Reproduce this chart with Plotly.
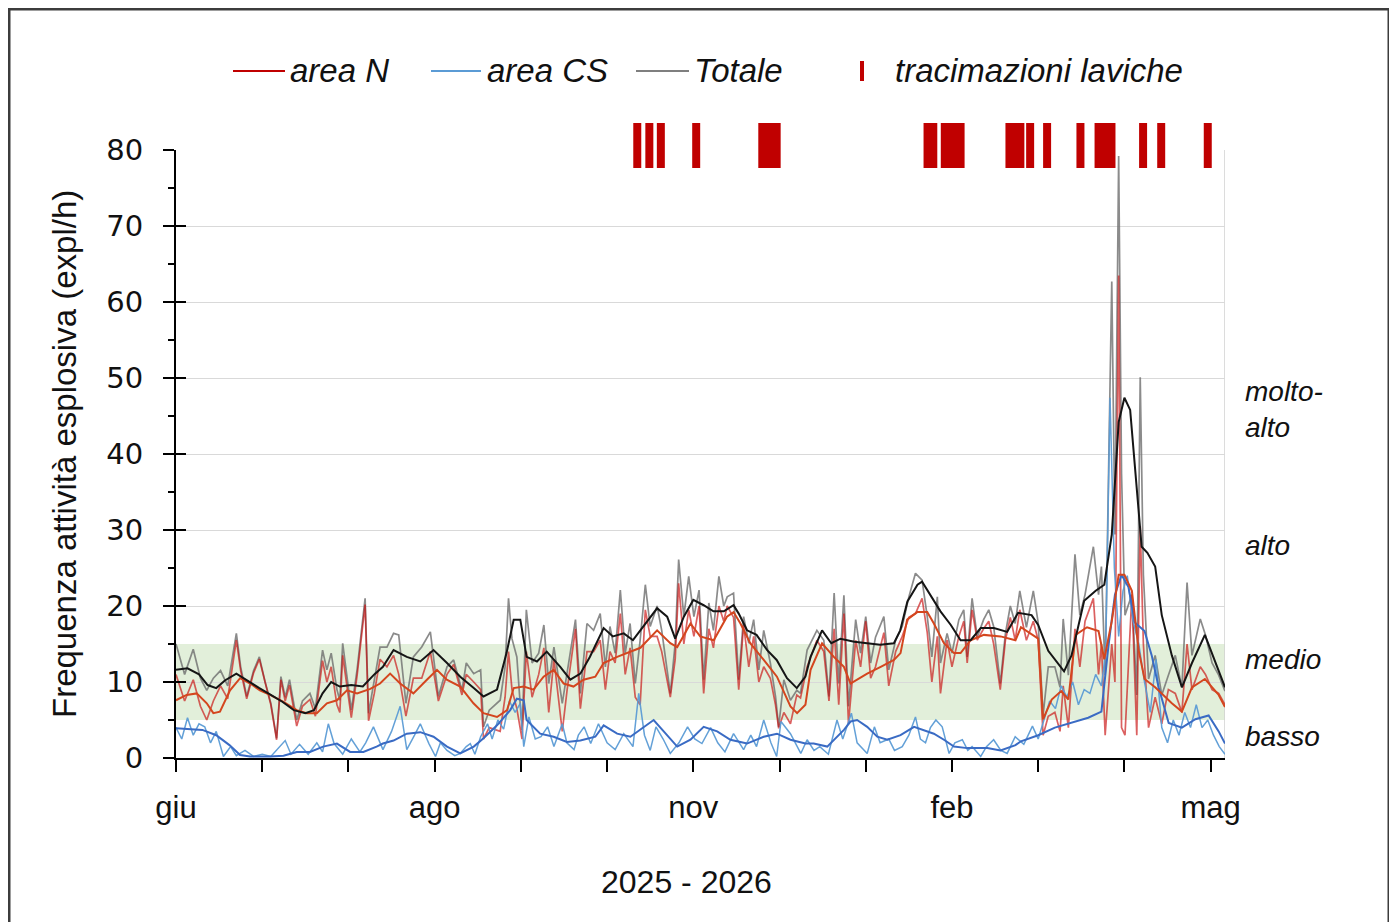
import plotly.graph_objects as go

# ---------------- DATA (days since 1 June 2025) ----------------
tot_days = [0, 3, 6, 8.5, 10.7, 13, 15.5, 18, 21, 22.5, 24.6, 27, 29, 31, 33, 35, 36.5, 38, 39.5, 42, 44, 46.6, 48.5, 51, 52.5, 54, 56, 57, 58, 61, 63, 65.8, 67, 69, 71,
            73.4, 75.7, 77.5, 79, 80, 82.6, 85.5, 88.5, 91.3, 94.3, 96.6, 99.5, 101, 103.6, 106, 107, 109, 112.8, 114.5, 115.7, 116.9, 118.6, 120.4, 121.9, 123.9, 126.2, 128, 129.7, 131.5, 134.4, 136.1, 139, 140.7, 143, 145.3,
            147.6, 149.4, 151, 152.8, 154.6, 156.3, 158, 159.8, 161.5, 163.3, 165, 167.4, 169, 172, 173.7, 174.9, 176.7, 178.4, 180.2, 182, 183.6, 185.4, 187, 188.9, 190.6, 191.8, 194, 195.8, 197.5, 199.3, 201, 202.8, 204.5, 206.8, 208.6, 209.7, 211.5, 213.8, 216,
            217.3, 219.6, 223, 225.4, 227.2, 229, 230.6, 232.4, 234, 236.5, 238.2, 240, 241.7, 243.4, 246.3, 248, 250.4, 252.7, 255, 257.3, 259.6, 261.4, 263, 264.9, 266, 268.3, 270, 272.4, 274.1, 275.3, 277, 278.8, 281, 282.8, 284.5, 286.8, 288.6, 290.3,
            292, 293.6, 295.9, 298.3, 300, 301.7, 303.5, 305.8, 307.6, 308.7, 310.5, 312.8, 314.5, 316.3, 319.2, 321, 322, 323.3, 325.6, 326.7, 328, 329, 330.2, 332.6, 334.3, 335.5, 336.6, 338.4, 340.7, 343, 345.3, 347.7, 350, 351.8, 353.5, 356.4, 358.2, 360.5, 362.8, 365]
tot_vals = [15.0, 11.0, 14.3, 10.5, 8.9, 10.5, 11.5, 9.5, 16.4, 12.0, 8.1, 11.5, 13.3, 10.0, 7.2, 2.6, 10.7, 8.0, 10.3, 5.0, 7.5, 8.5, 6.5, 14.2, 11.6, 13.8, 9.0, 7.6, 15.1, 6.3, 11.6, 21.0, 5.9, 10.0, 14.6,
            14.6, 16.4, 16.2, 10.3, 7.2, 13.3, 14.6, 16.6, 8.1, 12.0, 12.9, 8.9, 12.5, 11.1, 11.6, 4.1, 6.3, 7.6, 12.0, 21.0, 15.7, 13.3, 3.7, 19.5, 12.5, 13.8, 17.5, 9.8, 14.6, 7.2, 11.1, 18.2, 8.5, 17.7, 16.8,
            19.0, 12.0, 17.3, 13.8, 22.1, 13.8, 17.7, 9.8, 15.5, 22.8, 17.3, 20.0, 16.8, 8.5, 15.1, 26.1, 18.6, 23.9, 18.6, 22.1, 10.3, 20.4, 16.8, 23.9, 20.0, 21.2, 21.7, 10.3, 18.6, 15.1, 18.2, 11.6, 16.8, 12.5, 8.1, 4.1, 10.3, 7.6, 8.9,
            8.5, 14.2, 16.8, 15.5, 8.1, 21.7, 9.8, 21.4, 6.8, 18.2, 13.8, 18.6, 12.5, 15.9, 18.6, 11.6, 15.5, 17.3, 21.2, 24.3, 23.4, 18.6, 13.3, 21.2, 12.5, 16.4, 13.8, 18.2, 19.5, 13.3, 21.0, 15.9, 18.2, 19.5, 17.3, 9.8, 16.4, 20.0,
            17.7, 22.0, 17.2, 22.0, 17.8, 5.6, 12.0, 12.0, 9.3, 18.3, 10.9, 26.8, 18.8, 21.5, 27.8, 21.5, 25.2, 10.9, 62.7, 29.4, 79.2, 37.4, 18.8, 21.5, 8.3, 50.1, 24.1, 10.4, 13.5, 8.3, 10.9, 13.5, 9.3, 23.1, 13.5, 18.3, 16.2, 12.5, 10.9, 8.8]

n_days = tot_days
n_vals = [11.0, 7.5, 10.3, 6.8, 5.0, 7.5, 9.5, 7.8, 15.5, 11.5, 7.8, 11.2, 13.0, 9.8, 7.0, 2.4, 10.3, 7.5, 9.6, 4.2, 6.8, 7.7, 5.5, 12.8, 10.0, 12.0, 7.0, 6.0, 13.5, 5.3, 10.8, 20.2, 4.9, 8.5, 13.0,
          12.0, 13.5, 11.0, 7.5, 5.5, 10.5, 10.5, 14.0, 7.5, 11.0, 12.3, 8.3, 11.0, 10.0, 9.0, 2.5, 4.0, 3.5, 8.0, 14.0, 9.0, 6.5, 2.5, 14.0, 8.0, 11.0, 14.5, 6.0, 13.0, 3.5, 9.0, 17.0, 6.5, 14.0, 14.0,
          15.5, 9.0, 14.0, 12.5, 19.0, 11.0, 14.5, 8.0, 7.0, 19.5, 16.0, 16.0, 14.0, 8.0, 13.0, 23.0, 15.0, 19.5, 16.0, 20.0, 8.5, 17.0, 14.5, 20.0, 18.0, 20.0, 18.5, 9.0, 17.5, 12.0, 16.0, 10.0, 12.0, 10.5, 7.0, 3.9, 6.0, 4.5, 8.3,
          7.9, 12.0, 15.5, 14.0, 7.5, 17.0, 7.0, 19.0, 4.5, 15.5, 12.0, 18.0, 10.5, 12.0, 16.5, 9.5, 14.0, 16.0, 18.5, 19.0, 21.0, 16.5, 10.0, 16.0, 8.5, 15.5, 12.0, 16.0, 18.0, 12.5, 19.5, 15.5, 17.0, 18.0, 15.0, 9.0, 15.5, 18.5,
          15.5, 19.5, 15.5, 18.0, 15.5, 3.0, 5.5, 6.0, 3.5, 9.5, 4.0, 17.0, 12.0, 18.0, 21.0, 11.0, 15.0, 3.0, 15.0, 10.0, 63.5, 4.0, 3.0, 21.5, 3.0, 30.5, 15.0, 4.0, 8.0, 4.5, 9.0, 8.5, 6.0, 15.0, 9.0, 12.0, 11.0, 9.0, 8.5, 7.0]

cs_days = [0, 2, 4, 6, 8, 10, 12, 14, 16.5, 19, 21, 24, 27, 30, 33, 36, 38, 40, 43, 46, 49, 51, 53, 55, 58, 61, 64, 66, 68.7, 72,
           75, 78, 80.3, 83, 85, 88, 90.3, 92, 94.3, 97, 98.9, 101, 102.4, 104, 106, 108.4, 110, 112, 114, 116, 118, 119.8, 121, 122.8, 125, 127, 129.3, 131.5, 134.4, 136, 138.5, 140, 142, 144.3,
           147, 150, 152.8, 155.8, 159, 161, 163, 165, 167, 169.5, 172, 175, 178, 180.5, 183, 186, 188.5, 191, 194, 197.5, 200, 202, 204.5, 207, 209, 210.5, 213.8, 217.4,
           219.6, 222, 224, 227, 230, 232, 235, 237, 240.5, 243, 245, 248, 250, 252.7, 255, 257.3, 259, 260.8, 262.5, 264.4, 266.6, 269, 271, 273.6, 275.5, 277, 280, 282, 284.5, 287, 289.2,
           292, 295, 298, 300, 302, 304, 306, 308, 310, 312, 314, 316, 318, 320, 322, 323.5, 325, 326.5, 328, 329.5, 331, 333, 335, 337, 339, 341, 343, 345, 347, 349, 351, 353, 355, 357, 359, 361, 363, 365]
cs_vals = [4.0, 2.5, 5.3, 3.0, 4.5, 4.1, 2.0, 3.5, 0.2, 1.5, 0.3, 1.0, 0.2, 0.5, 0.2, 1.5, 2.3, 0.5, 1.8, 0.5, 2.0, 0.8, 4.5, 1.9, 0.5, 2.5, 0.8, 2.0, 4.1, 1.1,
           3.5, 6.8, 1.1, 3.0, 4.5, 1.9, 0.2, 2.0, 1.0, 0.3, 0.6, 1.5, 1.9, 0.5, 2.8, 4.5, 2.5, 5.0, 3.8, 7.5, 6.0, 7.2, 1.5, 5.4, 2.5, 2.8, 4.1, 1.5, 4.5, 2.0, 1.1, 3.0, 4.1, 1.9,
           4.5, 2.0, 1.1, 3.2, 1.5, 8.5, 3.0, 1.0, 4.1, 2.5, 0.6, 2.0, 4.1, 2.5, 1.9, 4.0, 2.0, 0.8, 3.2, 1.1, 3.0, 1.5, 5.0, 2.0, 0.2, 4.8, 3.2, 0.6,
           2.4, 1.0, 1.5, 0.5, 5.0, 2.5, 5.9, 2.0, 0.6, 4.1, 2.0, 2.5, 1.0, 1.5, 3.0, 5.4, 2.5, 2.0, 4.0, 5.0, 4.1, 0.6, 2.0, 2.4, 1.0, 1.5, 0.2, 1.5, 2.4, 1.0, 0.6,
           2.8, 1.8, 4.2, 2.5, 5.0, 7.5, 6.5, 9.5, 8.0, 10.0, 7.0, 9.0, 8.5, 11.0, 9.5, 14.0, 47.4, 25.0, 16.0, 22.0, 24.0, 18.0, 15.0, 10.0, 6.0, 13.0, 4.0, 2.0, 5.0, 3.0, 6.0, 4.0, 7.0, 4.0, 5.0, 3.0, 1.5, 0.5]

# moving averages
tot_ma_days = [0, 4, 8, 11, 14, 17, 21, 25, 29, 33, 37, 41, 45, 48, 51, 54, 57, 61, 65, 69, 72, 75.7, 80.3, 85, 89.6, 94.3, 98.9, 103.6, 107, 111.7, 115, 117.5, 119.8, 122, 125.6, 129, 133.7, 137.2, 140.7,
               144, 148.8, 152, 155.8, 159, 162.7, 167.4, 170.9, 173.7, 176.7, 180, 183.6, 187, 190.6, 194, 195.8, 198.7, 202, 205.7, 209, 212.6, 216, 219, 220.8, 224.8, 228, 231.2, 236, 240.5, 245, 249.8,
               252, 254.5, 258, 259.6, 262.6, 266, 269.6, 273, 276.5, 280, 284.6, 289.2, 293, 297.7, 300, 303.5, 309, 311.6, 316, 320, 323, 325.6, 328, 330, 332, 334, 336, 338, 340.7, 343, 346.5, 350, 353.5, 358, 362.8, 365]
tot_ma_vals = [11.6, 11.8, 11.0, 9.6, 9.2, 10.2, 11.1, 10.1, 9.2, 8.3, 7.4, 6.3, 5.9, 6.3, 8.5, 10.0, 9.4, 9.6, 9.4, 11.0, 12.0, 14.2, 13.3, 12.7, 14.2, 12.5, 10.7, 9.2, 8.1, 9.0, 13.8, 18.2, 18.2, 13.3, 12.7, 14.0, 12.0, 10.3, 11.1,
               13.3, 17.1, 16.0, 16.4, 15.5, 17.3, 19.7, 18.6, 15.7, 18.6, 20.8, 20.1, 19.3, 19.3, 20.1, 19.0, 16.8, 16.2, 14.2, 12.9, 10.5, 9.2, 10.7, 13.3, 16.8, 15.1, 15.7, 15.3, 15.1, 14.9, 15.1,
               16.8, 20.6, 22.8, 23.2, 21.4, 19.3, 17.5, 15.5, 15.5, 17.1, 17.1, 16.6, 19.1, 18.8, 17.5, 14.1, 11.4, 13.5, 20.7, 22.0, 22.8, 29.4, 44.2, 47.4, 45.8, 36.3, 27.8, 27.0, 25.2, 18.8, 13.5, 9.3, 12.5, 16.2, 11.4, 9.3]

n_ma_days = [0, 3.7, 7.2, 10.7, 13, 15.3, 18.8, 22.3, 25.8, 29.2, 32.7, 37.4, 42, 45.5, 49, 52.5, 56, 59.5, 63, 67.6, 71, 74.5, 78, 82.6, 87.3, 90.8, 94.2, 98.9, 103.5, 107, 111.7, 115.2, 117.5, 121, 124.4, 127.9, 131.4, 134.9, 138.3, 141.8, 145.9,
             148.8, 153.5, 157, 161.6, 167.4, 172, 174.4, 179, 182.4, 187.1, 191.7, 194, 196.4, 199.8, 204.5, 209.1, 213.8, 216.1, 219, 220.8, 224.8, 228.9, 232.4, 234.7, 237, 240.5, 245.2, 249.8, 252.1,
             254.4, 257.9, 261.4, 263.7, 267.2, 270.7, 273, 276.5, 281.1, 286.9, 292.1, 294, 300, 301.7, 304.7, 308, 310.5, 313, 317, 321, 323, 325.6, 328, 330, 332.6, 335, 337, 340.7, 346.5, 350, 353.5, 358, 362.8, 365]
n_ma_vals = [7.6, 8.3, 8.5, 7.2, 5.9, 6.1, 8.9, 10.5, 9.8, 8.9, 8.3, 7.4, 6.3, 5.9, 5.9, 7.2, 7.6, 8.9, 8.5, 9.1, 9.8, 11.1, 9.8, 8.5, 10.3, 11.6, 10.3, 9.4, 7.2, 5.9, 5.4, 6.3, 9.2, 9.4, 9.0, 10.7, 11.6, 9.8, 9.4, 10.3, 10.7,
             12.5, 13.3, 13.8, 14.5, 16.8, 15.1, 14.6, 17.7, 16.0, 15.5, 18.6, 19.2, 17.7, 15.1, 12.9, 10.7, 6.8, 5.9, 7.0, 11.6, 15.1, 13.3, 12.0, 9.8, 10.3, 11.1, 12.0, 12.9, 13.8,
             18.2, 19.2, 19.2, 17.7, 15.1, 13.8, 13.8, 15.5, 16.2, 16.0, 15.5, 17.2, 15.7, 5.1, 7.7, 8.8, 7.7, 16.2, 17.2, 16.7, 13.0, 18.0, 24.1, 24.1, 22.0, 14.1, 10.4, 9.3, 7.2, 6.1, 9.3, 10.4, 8.3, 6.7]

cs_ma_days = [0, 4.6, 9.2, 14, 18.6, 22.3, 25.8, 32.7, 37.4, 42, 46.6, 51.2, 56, 60.6, 65.2, 69.8, 72, 75.7, 80.3, 85, 89.6, 94.3, 98.9, 103.6, 107, 111.7, 116.3, 118.6, 121, 122, 126.7, 131.4, 136, 140.7, 145.9,
              148.8, 153.5, 158.1, 162.7, 166.2, 169.7, 174.4, 179, 183.6, 188.3, 192.9, 198.7, 204.5, 209.1, 213.8, 219, 221.9, 226.6, 228.9, 232.4, 234.7, 237, 240.5, 244, 247.5, 252.1, 256.8, 260.2, 263.7, 267.2, 270.7, 275.3, 282.3, 286.9, 292.1,
              294, 300, 305.8, 311.6, 317.4, 322, 324.4, 326.7, 329, 331.4, 333.7, 337, 339.5, 341.9, 345.4, 350, 354.7, 359.3, 362.8, 365]
cs_ma_vals = [3.9, 3.8, 3.7, 3.0, 1.7, 0.4, 0.2, 0.2, 0.3, 0.8, 0.8, 1.5, 1.9, 0.8, 0.8, 1.5, 1.9, 2.3, 3.2, 3.4, 2.8, 1.5, 0.6, 1.5, 2.6, 4.3, 6.3, 7.8, 7.6, 5.0, 3.2, 2.8, 2.1, 2.3, 2.8,
              4.3, 3.2, 2.8, 4.1, 5.0, 3.5, 1.5, 2.4, 4.1, 3.5, 2.4, 1.9, 2.8, 3.2, 2.4, 1.9, 1.9, 1.5, 2.4, 3.7, 4.8, 5.0, 4.1, 2.8, 2.4, 3.0, 4.1, 3.7, 3.2, 2.4, 1.5, 1.3, 1.3, 1.0, 1.7,
              2.2, 3.0, 4.0, 4.6, 5.3, 6.1, 14.6, 21.5, 24.1, 22.5, 17.8, 16.7, 13.5, 9.3, 4.6, 4.0, 5.1, 5.6, 3.5, 1.9]

# lava overflow days (tracimazioni laviche)
overflow_days = [160.5, 164.7, 168.7, 181, 204, 205, 206, 207, 208, 209, 261.5, 262.5, 263.5, 267.5, 268.5, 269.5, 270.5, 271.5, 272.5, 273,
                 290, 291, 292, 293, 293.8, 297.2, 303.1, 314.7, 321, 322, 323, 324, 325.5, 336.5, 342.8, 359]

tick_days = [0, 30, 60, 90, 120, 150, 180, 210, 240, 270, 300, 330, 360]
tick_labels = ["giu", "", "", "ago", "", "", "nov", "", "", "feb", "", "", "mag"]
level_labels = ["molto-<br>alto", "alto", "medio", "basso"]
level_y = [45.8, 28.0, 12.9, 2.8]
band_low, band_high = 5, 15

# ---------------- FIGURE ----------------
OFF = 8                      # page body margin
W, H = 1397 - OFF, 922 - OFF
L, R, B = 176, 1225, 758     # plot area in page pixels
TOP_MAIN, TOP_ALL = 150, 118
def px(x):
    return (x - L) / (R - L)
def py(y):
    return (B - y) / (B - TOP_ALL)

fig = go.Figure()
fig.add_trace(go.Scatter(x=tot_days, y=tot_vals, mode="lines", line=dict(color="rgba(110,110,110,0.8)", width=1.7), showlegend=False))
fig.add_trace(go.Scatter(x=n_days, y=n_vals, mode="lines", line=dict(color="rgba(200,10,10,0.65)", width=1.7), showlegend=False))
fig.add_trace(go.Scatter(x=cs_days, y=cs_vals, mode="lines", line=dict(color="rgba(91,155,213,0.95)", width=1.5), showlegend=False))
fig.add_trace(go.Scatter(x=cs_ma_days, y=cs_ma_vals, mode="lines", line=dict(color="#3A6BC4", width=2), showlegend=False))
fig.add_trace(go.Scatter(x=n_ma_days, y=n_ma_vals, mode="lines", line=dict(color="#D4461E", width=2), showlegend=False))
fig.add_trace(go.Scatter(x=tot_ma_days, y=tot_ma_vals, mode="lines", line=dict(color="#151515", width=2), showlegend=False))
fig.add_trace(go.Scatter(x=overflow_days, y=[0.5] * len(overflow_days), yaxis="y2", mode="markers",
                         marker=dict(symbol="line-ns", size=45, line=dict(color="#C00000", width=8)), showlegend=False))
# empty helper trace so the overlaid axis (inner half of the crossing ticks) is drawn
fig.add_trace(go.Scatter(x=[], y=[], yaxis="y3", mode="lines", showlegend=False, hoverinfo="skip"))

shapes = []
shapes.append(dict(type="rect", xref="x", yref="y", x0=0, x1=365, y0=band_low, y1=band_high,
                   fillcolor="#E2EFDA", line=dict(width=0), layer="below"))
shapes.append(dict(type="line", xref="x", yref="y", x0=365, x1=365, y0=0, y1=80, line=dict(color="#D0D0D0", width=1.5), layer="below"))
shapes.append(dict(type="rect", xref="paper", yref="paper", x0=px(9), x1=px(1389), y0=py(935), y1=py(9),
                   line=dict(color="#3C3C3C", width=3), fillcolor="rgba(0,0,0,0)"))
legend_font = dict(family="Liberation Sans", size=33, color="#111111")
leg_y = py(71)
for (x0, x1, col) in [(233, 285, "#C00000"), (431, 481, "#5B9BD5"), (636, 689, "#7F7F7F")]:
    shapes.append(dict(type="line", xref="paper", yref="paper", x0=px(x0), x1=px(x1), y0=leg_y, y1=leg_y, line=dict(color=col, width=2)))
shapes.append(dict(type="line", xref="paper", yref="paper", x0=px(862), x1=px(862), y0=py(61), y1=py(81), line=dict(color="#C00000", width=4)))

annotations = []
for (x0, txt) in [(288, "area N"), (485, "area CS"), (692, "Totale"), (893, "tracimazioni laviche")]:
    annotations.append(dict(xref="paper", yref="paper", x=px(x0), y=leg_y, text="<i>" + txt + "</i>", showarrow=False,
                            xanchor="left", yanchor="middle", font=legend_font))
for txt, yv in zip(level_labels, level_y):
    annotations.append(dict(xref="paper", yref="y", x=px(1243), y=yv, text="<i>" + txt + "</i>", showarrow=False,
                            xanchor="left", yanchor="middle", align="left",
                            font=dict(family="Liberation Sans", size=28, color="#111111")))
annotations.append(dict(xref="paper", yref="paper", x=px(64), y=py(454), text="Frequenza attività esplosiva (expl/h)",
                        textangle=-90, showarrow=False, xanchor="center", yanchor="middle",
                        font=dict(family="Liberation Sans", size=33, color="#111111")))
annotations.append(dict(xref="paper", yref="paper", x=px(686), y=py(882), text="2025 - 2026", showarrow=False,
                        xanchor="center", yanchor="middle", font=dict(family="Liberation Sans", size=32, color="#111111")))

fig.update_layout(
    width=W, height=H,
    margin=dict(l=L - OFF, r=W - (R - OFF), t=TOP_ALL - OFF, b=H - (B - OFF), pad=0),
    paper_bgcolor="white", plot_bgcolor="rgba(0,0,0,0)",
    shapes=shapes, annotations=annotations, showlegend=False,
    xaxis=dict(range=[0, 365], tickvals=tick_days, ticktext=tick_labels, ticks="outside", ticklen=12, tickwidth=2,
               tickcolor="black", showline=True, linecolor="black", linewidth=2, showgrid=False, zeroline=False,
               ticklabelstandoff=9, tickfont=dict(family="Liberation Sans", size=31, color="#111111")),
    yaxis=dict(range=[0, 80], dtick=10, domain=[0, py(TOP_MAIN)], ticks="outside", ticklen=11, tickwidth=2, tickcolor="black",
               showline=True, linecolor="black", linewidth=2, showgrid=True, gridcolor="#D9D9D9", gridwidth=1.3,
               zeroline=False, ticklabelstandoff=14,
               minor=dict(dtick=5, ticks="outside", ticklen=6, tickwidth=1.5, tickcolor="black", showgrid=False),
               tickfont=dict(family="DejaVu Sans", size=29, color="#111111")),
    yaxis2=dict(range=[0, 1], domain=[py(168), py(123)], anchor="x", visible=False, fixedrange=True),
    yaxis3=dict(range=[0, 80], dtick=10, overlaying="y", anchor="x", side="left", ticks="inside", ticklen=10,
                tickwidth=2, tickcolor="black", showticklabels=False, showgrid=False, showline=False, zeroline=False),
)
fig.write_html("out.html")
